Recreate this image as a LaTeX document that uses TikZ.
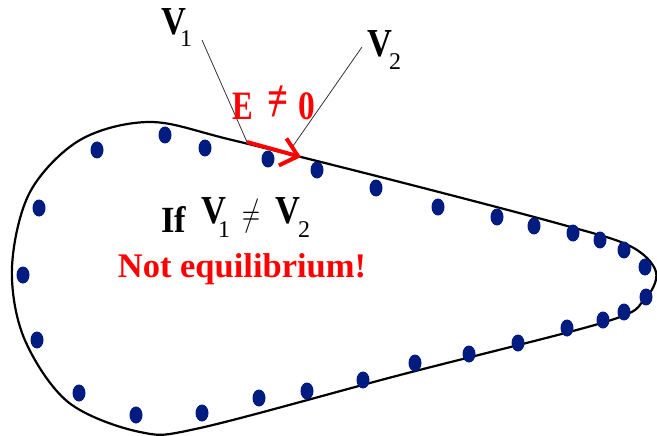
\documentclass[tikz,border=0pt]{standalone}
\usepackage{fontspec}
\setmainfont{Liberation Serif}
\usetikzlibrary{arrows.meta}
\definecolor{dotblue}{RGB}{0,28,128}
\definecolor{redtxt}{RGB}{255,0,0}
\newcommand{\subfnt}{\fontsize{24}{24}\selectfont\mdseries}
\tikzset{
  outline/.style={draw=black,line width=2.2pt},
  leader/.style={draw=black!80,line width=0.8pt},
  bigV/.style={inner sep=0pt,anchor=base west,font=\fontsize{34.5}{34.5}\selectfont\bfseries},
  redlbl/.style={inner sep=0pt,text=redtxt,font=\fontsize{31}{31}\selectfont\bfseries},
  dot/.style={fill=dotblue}
}
\begin{document}
\begin{tikzpicture}[x=1pt,y=-1pt]
\useasboundingbox (0,0) rectangle (657,436);
% outline of the conductor
\draw[outline] plot[smooth cycle,tension=0.55] coordinates {
 (150,122) (232,140) (400,182) (560,224) (630,246) (656,272)
 (644,300) (605,322) (400,375) (200,428) (140,432) (68,402)
 (24,338) (12,267) (30,192) (80,140)};
% charges
\foreach \p in {(97,150),(165,135),(205,148),(268,159),(317,170),(376,188),
 (438,207),(497,217),(534,226),(573,233),(600,240),(624,250),(645,267),
 (646,297),(624,312),(603,320),(567,328),(518,343),(469,354),(415,363),
 (363,380),(307,391),(259,398),(202,413),(136,415),(79,393),(37,340),
 (23,275),(39,208)}
 \fill[dot] \p ellipse (6.5 and 8.5);
% labels V1, V2
\node[bigV] (v1) at (161,35) {\scalebox{1}[1.15]{V}\kern-6pt\raisebox{-12pt}{\subfnt 1}};
\node[bigV] (v2) at (367,57) {\scalebox{1}[1.15]{V}\kern-3pt\raisebox{-13pt}{\subfnt 2}};
\coordinate (p1) at (247,142);
\coordinate (p2) at (293,146);
\coordinate (l1) at (202,40);
\coordinate (l2) at (362,47);
\draw[leader] (l1) -- (p1);
\draw[leader] (l2) -- (p2);
% field arrow
\coordinate (a2) at (301,157);
\draw[redtxt,line width=4pt,-{Straight Barb[length=16pt,width=28pt,line width=4pt]}] (p1) -- (a2);
\node[redlbl,anchor=base west] (e) at (232,120) {\scalebox{1}[1.3]{E}};
\node[redlbl] (ne) at (278,104) {\scalebox{1.2}[1.5]{\ooalign{\hfil=\hfil\cr\hfil\raisebox{-2pt}{/}\hfil\cr}}};
\node[redlbl,anchor=base west] (zero) at (298,120) {\scalebox{1.08}[1.3]{0}};
% If V1 != V2
\node[bigV] (if) at (161,232) {\scalebox{1}[1.07]{If}};
\node[bigV] (v3) at (201,223) {\scalebox{1}[1.15]{V}\kern-8pt\raisebox{-14pt}{\subfnt 1}};
\node[inner sep=0pt,font=\fontsize{28}{28}\selectfont] (ne2) at (251,216) {\scalebox{1}[1.5]{$\neq$}};
\node[bigV] (v4) at (275,223) {\scalebox{1}[1.15]{V}\kern-2pt\raisebox{-14pt}{\subfnt 2}};
\node[redlbl,font=\fontsize{34.5}{34.5}\selectfont\bfseries] (neq) at (242,269) {Not equilibrium!};
\end{tikzpicture}
\end{document}
